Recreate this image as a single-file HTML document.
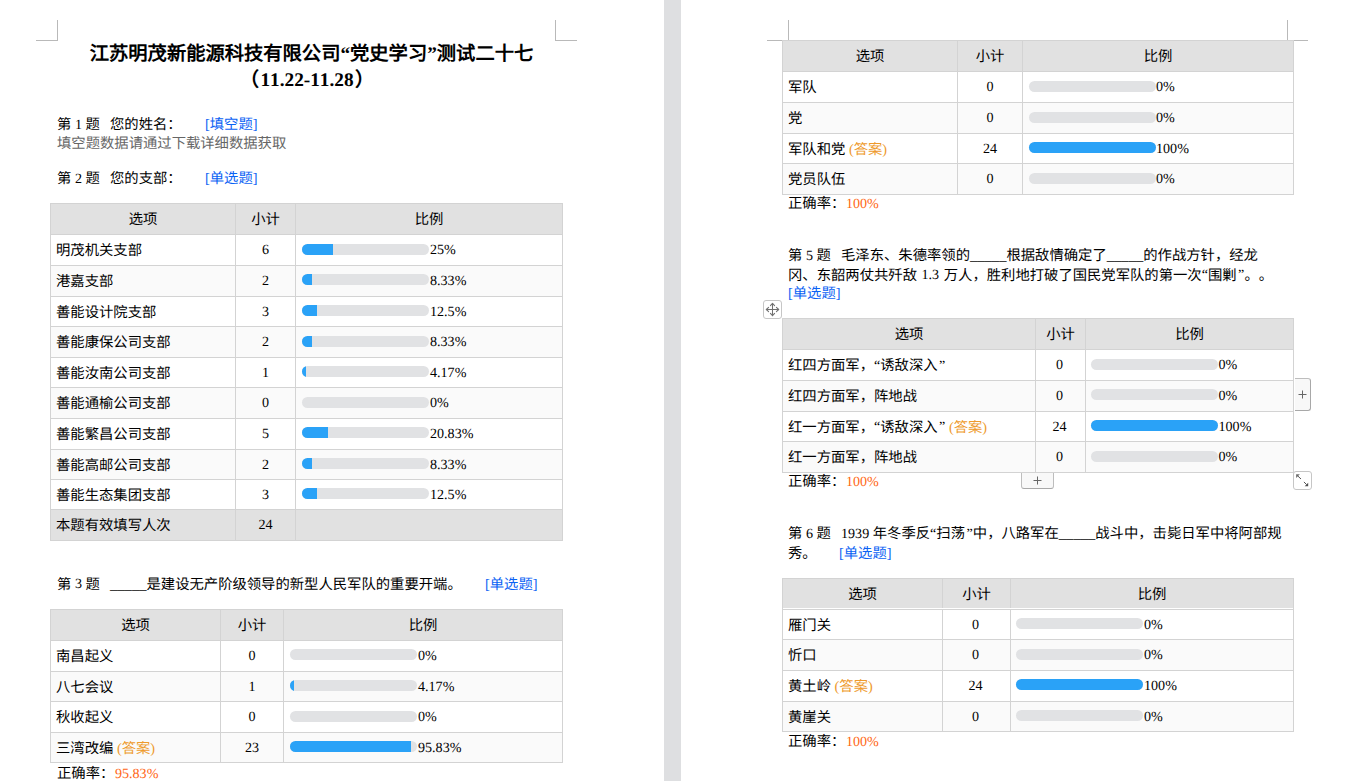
<!DOCTYPE html>
<html lang="zh-CN"><head><meta charset="utf-8"><title>doc</title>
<style>
html,body{margin:0;padding:0;}
body{width:1359px;height:781px;overflow:hidden;background:#fff;position:relative;font-family:"Liberation Serif",serif;}
.r{position:absolute;}
.t{position:absolute;white-space:nowrap;text-rendering:geometricPrecision;text-spacing-trim:space-all;font-kerning:none;}
.u{font-size:14.6px;}
.qc{margin-left:1.5px;}
.l{font-size:14.1px;position:relative;top:-0.5px;}
.p{top:0.3px;margin-left:0.6px;}
</style></head><body>
<div class="r" style="left:664px;top:0px;width:17px;height:781px;background:#dedfe1;"></div>
<div class="r" style="left:57px;top:20px;width:1px;height:21px;background:#b9b9b9;"></div>
<div class="r" style="left:36px;top:40px;width:22px;height:1px;background:#b9b9b9;"></div>
<div class="r" style="left:555px;top:20px;width:1px;height:21px;background:#b9b9b9;"></div>
<div class="r" style="left:555px;top:40px;width:22px;height:1px;background:#b9b9b9;"></div>
<div class="t" style="left:0px;top:42.0px;font-size:19.3px;line-height:26px;color:#000;font-weight:bold;width:623px;text-align:center;">江苏明茂新能源科技有限公司“党史学习”测试二十七</div>
<div class="t" style="left:0px;top:67.6px;font-size:19.3px;line-height:26px;color:#000;font-weight:bold;width:614px;text-align:center;"><span style="margin-right:1.5px">（</span>11.22-11.28<span style="margin-left:1.5px">）</span></div>
<div class="t" style="left:57px;top:115.3px;font-size:14.33px;line-height:20px;color:#000;">第 <span class="l">1</span> 题</div>
<div class="t" style="left:110px;top:115.3px;font-size:14.33px;line-height:20px;color:#000;">您的姓名：</div>
<div class="t" style="left:205px;top:115.3px;font-size:14.33px;line-height:20px;color:#000;"><span style="color:#0a62f4">[填空题]</span></div>
<div class="t" style="left:57px;top:133.8px;font-size:14.33px;line-height:20px;color:#666666;">填空题数据请通过下载详细数据获取</div>
<div class="t" style="left:57px;top:169.3px;font-size:14.33px;line-height:20px;color:#000;">第 <span class="l">2</span> 题</div>
<div class="t" style="left:110px;top:169.3px;font-size:14.33px;line-height:20px;color:#000;">您的支部：</div>
<div class="t" style="left:205px;top:169.3px;font-size:14.33px;line-height:20px;color:#000;"><span style="color:#0a62f4">[单选题]</span></div>
<div class="r" style="left:50px;top:203px;width:513px;height:338px;background:#d3d3d3;"></div>
<div class="r" style="left:51px;top:204px;width:184px;height:30px;background:#e1e1e1;"></div>
<div class="r" style="left:236px;top:204px;width:59px;height:30px;background:#e1e1e1;"></div>
<div class="r" style="left:296px;top:204px;width:266px;height:30px;background:#e1e1e1;"></div>
<div class="t" style="left:51px;top:210.3px;font-size:14.33px;line-height:20px;color:#000;width:184px;text-align:center;">选项</div>
<div class="t" style="left:236px;top:210.3px;font-size:14.33px;line-height:20px;color:#000;width:59px;text-align:center;">小计</div>
<div class="t" style="left:296px;top:210.3px;font-size:14.33px;line-height:20px;color:#000;width:266px;text-align:center;">比例</div>
<div class="r" style="left:51px;top:235px;width:184px;height:30px;background:#fff;"></div>
<div class="r" style="left:236px;top:235px;width:59px;height:30px;background:#fff;"></div>
<div class="r" style="left:296px;top:235px;width:266px;height:30px;background:#fff;"></div>
<div class="t" style="left:56px;top:241.3px;font-size:14.33px;line-height:20px;color:#000;">明茂机关支部</div>
<div class="t" style="left:236px;top:240.2px;font-size:14.1px;line-height:20px;color:#000;width:59px;text-align:center;">6</div>
<div class="r" style="left:302px;top:244px;width:127px;height:11px;background:#e1e2e4;border-radius:5.5px;overflow:hidden;"></div>
<div class="r" style="left:302px;top:244px;width:127px;height:11px;border-radius:5.5px;overflow:hidden;"><div style="width:31.25px;height:11px;background:#2aa2f7"></div></div>
<div class="t" style="left:430px;top:240.2px;font-size:14.1px;line-height:20px;color:#000;">25%</div>
<div class="r" style="left:51px;top:266px;width:184px;height:30px;background:#fafafa;"></div>
<div class="r" style="left:236px;top:266px;width:59px;height:30px;background:#fafafa;"></div>
<div class="r" style="left:296px;top:266px;width:266px;height:30px;background:#fafafa;"></div>
<div class="t" style="left:56px;top:272.3px;font-size:14.33px;line-height:20px;color:#000;">港嘉支部</div>
<div class="t" style="left:236px;top:271.2px;font-size:14.1px;line-height:20px;color:#000;width:59px;text-align:center;">2</div>
<div class="r" style="left:302px;top:274px;width:127px;height:11px;background:#e1e2e4;border-radius:5.5px;overflow:hidden;"></div>
<div class="r" style="left:302px;top:274px;width:127px;height:11px;border-radius:5.5px;overflow:hidden;"><div style="width:10.08px;height:11px;background:#2aa2f7"></div></div>
<div class="t" style="left:430px;top:271.2px;font-size:14.1px;line-height:20px;color:#000;">8.33%</div>
<div class="r" style="left:51px;top:297px;width:184px;height:29px;background:#fff;"></div>
<div class="r" style="left:236px;top:297px;width:59px;height:29px;background:#fff;"></div>
<div class="r" style="left:296px;top:297px;width:266px;height:29px;background:#fff;"></div>
<div class="t" style="left:56px;top:302.8px;font-size:14.33px;line-height:20px;color:#000;">善能设计院支部</div>
<div class="t" style="left:236px;top:301.7px;font-size:14.1px;line-height:20px;color:#000;width:59px;text-align:center;">3</div>
<div class="r" style="left:302px;top:305px;width:127px;height:11px;background:#e1e2e4;border-radius:5.5px;overflow:hidden;"></div>
<div class="r" style="left:302px;top:305px;width:127px;height:11px;border-radius:5.5px;overflow:hidden;"><div style="width:15.38px;height:11px;background:#2aa2f7"></div></div>
<div class="t" style="left:430px;top:301.7px;font-size:14.1px;line-height:20px;color:#000;">12.5%</div>
<div class="r" style="left:51px;top:327px;width:184px;height:30px;background:#fafafa;"></div>
<div class="r" style="left:236px;top:327px;width:59px;height:30px;background:#fafafa;"></div>
<div class="r" style="left:296px;top:327px;width:266px;height:30px;background:#fafafa;"></div>
<div class="t" style="left:56px;top:333.3px;font-size:14.33px;line-height:20px;color:#000;">善能康保公司支部</div>
<div class="t" style="left:236px;top:332.2px;font-size:14.1px;line-height:20px;color:#000;width:59px;text-align:center;">2</div>
<div class="r" style="left:302px;top:336px;width:127px;height:11px;background:#e1e2e4;border-radius:5.5px;overflow:hidden;"></div>
<div class="r" style="left:302px;top:336px;width:127px;height:11px;border-radius:5.5px;overflow:hidden;"><div style="width:10.08px;height:11px;background:#2aa2f7"></div></div>
<div class="t" style="left:430px;top:332.2px;font-size:14.1px;line-height:20px;color:#000;">8.33%</div>
<div class="r" style="left:51px;top:358px;width:184px;height:29px;background:#fff;"></div>
<div class="r" style="left:236px;top:358px;width:59px;height:29px;background:#fff;"></div>
<div class="r" style="left:296px;top:358px;width:266px;height:29px;background:#fff;"></div>
<div class="t" style="left:56px;top:363.8px;font-size:14.33px;line-height:20px;color:#000;">善能汝南公司支部</div>
<div class="t" style="left:236px;top:362.7px;font-size:14.1px;line-height:20px;color:#000;width:59px;text-align:center;">1</div>
<div class="r" style="left:302px;top:366px;width:127px;height:11px;background:#e1e2e4;border-radius:5.5px;overflow:hidden;"></div>
<div class="r" style="left:302px;top:366px;width:127px;height:11px;border-radius:5.5px;overflow:hidden;"><div style="width:3.80px;height:11px;background:#2aa2f7"></div></div>
<div class="t" style="left:430px;top:362.7px;font-size:14.1px;line-height:20px;color:#000;">4.17%</div>
<div class="r" style="left:51px;top:388px;width:184px;height:30px;background:#fafafa;"></div>
<div class="r" style="left:236px;top:388px;width:59px;height:30px;background:#fafafa;"></div>
<div class="r" style="left:296px;top:388px;width:266px;height:30px;background:#fafafa;"></div>
<div class="t" style="left:56px;top:394.3px;font-size:14.33px;line-height:20px;color:#000;">善能通榆公司支部</div>
<div class="t" style="left:236px;top:393.2px;font-size:14.1px;line-height:20px;color:#000;width:59px;text-align:center;">0</div>
<div class="r" style="left:302px;top:397px;width:127px;height:11px;background:#e1e2e4;border-radius:5.5px;overflow:hidden;"></div>
<div class="t" style="left:430px;top:393.2px;font-size:14.1px;line-height:20px;color:#000;">0%</div>
<div class="r" style="left:51px;top:419px;width:184px;height:30px;background:#fff;"></div>
<div class="r" style="left:236px;top:419px;width:59px;height:30px;background:#fff;"></div>
<div class="r" style="left:296px;top:419px;width:266px;height:30px;background:#fff;"></div>
<div class="t" style="left:56px;top:425.3px;font-size:14.33px;line-height:20px;color:#000;">善能繁昌公司支部</div>
<div class="t" style="left:236px;top:424.2px;font-size:14.1px;line-height:20px;color:#000;width:59px;text-align:center;">5</div>
<div class="r" style="left:302px;top:427px;width:127px;height:11px;background:#e1e2e4;border-radius:5.5px;overflow:hidden;"></div>
<div class="r" style="left:302px;top:427px;width:127px;height:11px;border-radius:5.5px;overflow:hidden;"><div style="width:25.95px;height:11px;background:#2aa2f7"></div></div>
<div class="t" style="left:430px;top:424.2px;font-size:14.1px;line-height:20px;color:#000;">20.83%</div>
<div class="r" style="left:51px;top:450px;width:184px;height:29px;background:#fafafa;"></div>
<div class="r" style="left:236px;top:450px;width:59px;height:29px;background:#fafafa;"></div>
<div class="r" style="left:296px;top:450px;width:266px;height:29px;background:#fafafa;"></div>
<div class="t" style="left:56px;top:455.8px;font-size:14.33px;line-height:20px;color:#000;">善能高邮公司支部</div>
<div class="t" style="left:236px;top:454.7px;font-size:14.1px;line-height:20px;color:#000;width:59px;text-align:center;">2</div>
<div class="r" style="left:302px;top:458px;width:127px;height:11px;background:#e1e2e4;border-radius:5.5px;overflow:hidden;"></div>
<div class="r" style="left:302px;top:458px;width:127px;height:11px;border-radius:5.5px;overflow:hidden;"><div style="width:10.08px;height:11px;background:#2aa2f7"></div></div>
<div class="t" style="left:430px;top:454.7px;font-size:14.1px;line-height:20px;color:#000;">8.33%</div>
<div class="r" style="left:51px;top:480px;width:184px;height:29px;background:#fff;"></div>
<div class="r" style="left:236px;top:480px;width:59px;height:29px;background:#fff;"></div>
<div class="r" style="left:296px;top:480px;width:266px;height:29px;background:#fff;"></div>
<div class="t" style="left:56px;top:485.8px;font-size:14.33px;line-height:20px;color:#000;">善能生态集团支部</div>
<div class="t" style="left:236px;top:484.7px;font-size:14.1px;line-height:20px;color:#000;width:59px;text-align:center;">3</div>
<div class="r" style="left:302px;top:488px;width:127px;height:11px;background:#e1e2e4;border-radius:5.5px;overflow:hidden;"></div>
<div class="r" style="left:302px;top:488px;width:127px;height:11px;border-radius:5.5px;overflow:hidden;"><div style="width:15.38px;height:11px;background:#2aa2f7"></div></div>
<div class="t" style="left:430px;top:484.7px;font-size:14.1px;line-height:20px;color:#000;">12.5%</div>
<div class="r" style="left:51px;top:510px;width:184px;height:30px;background:#e1e1e1;"></div>
<div class="r" style="left:236px;top:510px;width:59px;height:30px;background:#e1e1e1;"></div>
<div class="r" style="left:296px;top:510px;width:266px;height:30px;background:#e1e1e1;"></div>
<div class="t" style="left:56px;top:516.3px;font-size:14.33px;line-height:20px;color:#000;">本题有效填写人次</div>
<div class="t" style="left:236px;top:515.2px;font-size:14.1px;line-height:20px;color:#000;width:59px;text-align:center;">24</div>
<div class="t" style="left:57px;top:574.8px;font-size:14.33px;line-height:20px;color:#000;">第 <span class="l">3</span> 题</div>
<div class="t" style="left:110px;top:574.8px;font-size:14.33px;line-height:20px;color:#000;"><span class="u">_____</span>是建设无产阶级领导的新型人民军队的重要开端。</div>
<div class="t" style="left:485px;top:574.8px;font-size:14.33px;line-height:20px;color:#000;"><span style="color:#0a62f4">[单选题]</span></div>
<div class="r" style="left:50px;top:609px;width:513px;height:154px;background:#d3d3d3;"></div>
<div class="r" style="left:51px;top:610px;width:169px;height:30px;background:#e1e1e1;"></div>
<div class="r" style="left:221px;top:610px;width:62px;height:30px;background:#e1e1e1;"></div>
<div class="r" style="left:284px;top:610px;width:278px;height:30px;background:#e1e1e1;"></div>
<div class="t" style="left:51px;top:616.3px;font-size:14.33px;line-height:20px;color:#000;width:169px;text-align:center;">选项</div>
<div class="t" style="left:221px;top:616.3px;font-size:14.33px;line-height:20px;color:#000;width:62px;text-align:center;">小计</div>
<div class="t" style="left:284px;top:616.3px;font-size:14.33px;line-height:20px;color:#000;width:278px;text-align:center;">比例</div>
<div class="r" style="left:51px;top:641px;width:169px;height:30px;background:#fff;"></div>
<div class="r" style="left:221px;top:641px;width:62px;height:30px;background:#fff;"></div>
<div class="r" style="left:284px;top:641px;width:278px;height:30px;background:#fff;"></div>
<div class="t" style="left:56px;top:647.3px;font-size:14.33px;line-height:20px;color:#000;">南昌起义</div>
<div class="t" style="left:221px;top:646.2px;font-size:14.1px;line-height:20px;color:#000;width:62px;text-align:center;">0</div>
<div class="r" style="left:290px;top:649px;width:127px;height:11px;background:#e1e2e4;border-radius:5.5px;overflow:hidden;"></div>
<div class="t" style="left:418px;top:646.2px;font-size:14.1px;line-height:20px;color:#000;">0%</div>
<div class="r" style="left:51px;top:672px;width:169px;height:29px;background:#fafafa;"></div>
<div class="r" style="left:221px;top:672px;width:62px;height:29px;background:#fafafa;"></div>
<div class="r" style="left:284px;top:672px;width:278px;height:29px;background:#fafafa;"></div>
<div class="t" style="left:56px;top:677.8px;font-size:14.33px;line-height:20px;color:#000;">八七会议</div>
<div class="t" style="left:221px;top:676.7px;font-size:14.1px;line-height:20px;color:#000;width:62px;text-align:center;">1</div>
<div class="r" style="left:290px;top:680px;width:127px;height:11px;background:#e1e2e4;border-radius:5.5px;overflow:hidden;"></div>
<div class="r" style="left:290px;top:680px;width:127px;height:11px;border-radius:5.5px;overflow:hidden;"><div style="width:3.80px;height:11px;background:#2aa2f7"></div></div>
<div class="t" style="left:418px;top:676.7px;font-size:14.1px;line-height:20px;color:#000;">4.17%</div>
<div class="r" style="left:51px;top:702px;width:169px;height:30px;background:#fff;"></div>
<div class="r" style="left:221px;top:702px;width:62px;height:30px;background:#fff;"></div>
<div class="r" style="left:284px;top:702px;width:278px;height:30px;background:#fff;"></div>
<div class="t" style="left:56px;top:708.3px;font-size:14.33px;line-height:20px;color:#000;">秋收起义</div>
<div class="t" style="left:221px;top:707.2px;font-size:14.1px;line-height:20px;color:#000;width:62px;text-align:center;">0</div>
<div class="r" style="left:290px;top:711px;width:127px;height:11px;background:#e1e2e4;border-radius:5.5px;overflow:hidden;"></div>
<div class="t" style="left:418px;top:707.2px;font-size:14.1px;line-height:20px;color:#000;">0%</div>
<div class="r" style="left:51px;top:733px;width:169px;height:29px;background:#fafafa;"></div>
<div class="r" style="left:221px;top:733px;width:62px;height:29px;background:#fafafa;"></div>
<div class="r" style="left:284px;top:733px;width:278px;height:29px;background:#fafafa;"></div>
<div class="t" style="left:56px;top:738.8px;font-size:14.33px;line-height:20px;color:#000;">三湾改编 <span style="color:#ee9a2c">(答案)</span></div>
<div class="t" style="left:221px;top:737.7px;font-size:14.1px;line-height:20px;color:#000;width:62px;text-align:center;">23</div>
<div class="r" style="left:290px;top:741px;width:127px;height:11px;background:#e1e2e4;border-radius:5.5px;overflow:hidden;"></div>
<div class="r" style="left:290px;top:741px;width:127px;height:11px;border-radius:5.5px;overflow:hidden;"><div style="width:121.20px;height:11px;background:#2aa2f7"></div></div>
<div class="t" style="left:418px;top:737.7px;font-size:14.1px;line-height:20px;color:#000;">95.83%</div>
<div class="t" style="left:57px;top:763.6px;font-size:14.33px;line-height:20px;color:#000;">正确率：<span class="l p" style="color:#ff6512">95.83%</span></div>
<div class="r" style="left:788px;top:20px;width:1px;height:21px;background:#b9b9b9;"></div>
<div class="r" style="left:767px;top:40px;width:22px;height:1px;background:#b9b9b9;"></div>
<div class="r" style="left:1287px;top:20px;width:1px;height:21px;background:#b9b9b9;"></div>
<div class="r" style="left:1287px;top:40px;width:21px;height:1px;background:#b9b9b9;"></div>
<div class="r" style="left:782px;top:40px;width:512px;height:155px;background:#d3d3d3;"></div>
<div class="r" style="left:783px;top:41px;width:174px;height:30px;background:#e1e1e1;"></div>
<div class="r" style="left:958px;top:41px;width:64px;height:30px;background:#e1e1e1;"></div>
<div class="r" style="left:1023px;top:41px;width:270px;height:30px;background:#e1e1e1;"></div>
<div class="t" style="left:783px;top:47.3px;font-size:14.33px;line-height:20px;color:#000;width:174px;text-align:center;">选项</div>
<div class="t" style="left:958px;top:47.3px;font-size:14.33px;line-height:20px;color:#000;width:64px;text-align:center;">小计</div>
<div class="t" style="left:1023px;top:47.3px;font-size:14.33px;line-height:20px;color:#000;width:270px;text-align:center;">比例</div>
<div class="r" style="left:783px;top:72px;width:174px;height:30px;background:#fff;"></div>
<div class="r" style="left:958px;top:72px;width:64px;height:30px;background:#fff;"></div>
<div class="r" style="left:1023px;top:72px;width:270px;height:30px;background:#fff;"></div>
<div class="t" style="left:788px;top:78.3px;font-size:14.33px;line-height:20px;color:#000;">军队</div>
<div class="t" style="left:958px;top:77.2px;font-size:14.1px;line-height:20px;color:#000;width:64px;text-align:center;">0</div>
<div class="r" style="left:1029px;top:81px;width:127px;height:11px;background:#e1e2e4;border-radius:5.5px;overflow:hidden;"></div>
<div class="t" style="left:1156px;top:77.2px;font-size:14.1px;line-height:20px;color:#000;">0%</div>
<div class="r" style="left:783px;top:103px;width:174px;height:30px;background:#fafafa;"></div>
<div class="r" style="left:958px;top:103px;width:64px;height:30px;background:#fafafa;"></div>
<div class="r" style="left:1023px;top:103px;width:270px;height:30px;background:#fafafa;"></div>
<div class="t" style="left:788px;top:109.3px;font-size:14.33px;line-height:20px;color:#000;">党</div>
<div class="t" style="left:958px;top:108.2px;font-size:14.1px;line-height:20px;color:#000;width:64px;text-align:center;">0</div>
<div class="r" style="left:1029px;top:112px;width:127px;height:11px;background:#e1e2e4;border-radius:5.5px;overflow:hidden;"></div>
<div class="t" style="left:1156px;top:108.2px;font-size:14.1px;line-height:20px;color:#000;">0%</div>
<div class="r" style="left:783px;top:134px;width:174px;height:29px;background:#fff;"></div>
<div class="r" style="left:958px;top:134px;width:64px;height:29px;background:#fff;"></div>
<div class="r" style="left:1023px;top:134px;width:270px;height:29px;background:#fff;"></div>
<div class="t" style="left:788px;top:139.8px;font-size:14.33px;line-height:20px;color:#000;">军队和党 <span style="color:#ee9a2c">(答案)</span></div>
<div class="t" style="left:958px;top:138.7px;font-size:14.1px;line-height:20px;color:#000;width:64px;text-align:center;">24</div>
<div class="r" style="left:1029px;top:142px;width:127px;height:11px;background:#e1e2e4;border-radius:5.5px;overflow:hidden;"></div>
<div class="r" style="left:1029px;top:142px;width:127px;height:11px;background:#2aa2f7;border-radius:5.5px;"></div>
<div class="t" style="left:1156px;top:138.7px;font-size:14.1px;line-height:20px;color:#000;">100%</div>
<div class="r" style="left:783px;top:164px;width:174px;height:30px;background:#fafafa;"></div>
<div class="r" style="left:958px;top:164px;width:64px;height:30px;background:#fafafa;"></div>
<div class="r" style="left:1023px;top:164px;width:270px;height:30px;background:#fafafa;"></div>
<div class="t" style="left:788px;top:170.3px;font-size:14.33px;line-height:20px;color:#000;">党员队伍</div>
<div class="t" style="left:958px;top:169.2px;font-size:14.1px;line-height:20px;color:#000;width:64px;text-align:center;">0</div>
<div class="r" style="left:1029px;top:173px;width:127px;height:11px;background:#e1e2e4;border-radius:5.5px;overflow:hidden;"></div>
<div class="t" style="left:1156px;top:169.2px;font-size:14.1px;line-height:20px;color:#000;">0%</div>
<div class="t" style="left:788px;top:194.1px;font-size:14.33px;line-height:20px;color:#000;">正确率：<span class="l p" style="color:#ff6512">100%</span></div>
<div class="t" style="left:788px;top:246.3px;font-size:14.33px;line-height:20px;color:#000;">第 <span class="l">5</span> 题</div>
<div class="t" style="left:841px;top:246.3px;font-size:14.33px;line-height:20px;color:#000;">毛泽东、朱德率领的<span class="u">_____</span>根据敌情确定了<span class="u">_____</span>的作战方针，经龙</div>
<div class="t" style="left:788px;top:265.8px;font-size:14.33px;line-height:20px;color:#000;word-spacing:1px;">冈、东韶两仗共歼敌 <span class="l">1.3</span> 万人，胜利地打破了国民党军队的第一次<span class="l">“</span>围剿<span class="l qc">”</span>。。</div>
<div class="t" style="left:788px;top:284.1px;font-size:14.33px;line-height:20px;color:#000;"><span style="color:#0a62f4">[单选题]</span></div>
<div class="r" style="left:782px;top:318px;width:512px;height:155px;background:#d3d3d3;"></div>
<div class="r" style="left:783px;top:319px;width:252px;height:30px;background:#e1e1e1;"></div>
<div class="r" style="left:1036px;top:319px;width:49px;height:30px;background:#e1e1e1;"></div>
<div class="r" style="left:1086px;top:319px;width:207px;height:30px;background:#e1e1e1;"></div>
<div class="t" style="left:783px;top:325.3px;font-size:14.33px;line-height:20px;color:#000;width:252px;text-align:center;">选项</div>
<div class="t" style="left:1036px;top:325.3px;font-size:14.33px;line-height:20px;color:#000;width:49px;text-align:center;">小计</div>
<div class="t" style="left:1086px;top:325.3px;font-size:14.33px;line-height:20px;color:#000;width:207px;text-align:center;">比例</div>
<div class="r" style="left:783px;top:350px;width:252px;height:30px;background:#fff;"></div>
<div class="r" style="left:1036px;top:350px;width:49px;height:30px;background:#fff;"></div>
<div class="r" style="left:1086px;top:350px;width:207px;height:30px;background:#fff;"></div>
<div class="t" style="left:788px;top:356.3px;font-size:14.33px;line-height:20px;color:#000;">红四方面军，<span class="l">“</span>诱敌深入<span class="l qc">”</span></div>
<div class="t" style="left:1035px;top:355.2px;font-size:14.1px;line-height:20px;color:#000;width:49px;text-align:center;">0</div>
<div class="r" style="left:1091px;top:359px;width:127px;height:11px;background:#e1e2e4;border-radius:5.5px;overflow:hidden;"></div>
<div class="t" style="left:1218.5px;top:355.2px;font-size:14.1px;line-height:20px;color:#000;">0%</div>
<div class="r" style="left:783px;top:381px;width:252px;height:30px;background:#fafafa;"></div>
<div class="r" style="left:1036px;top:381px;width:49px;height:30px;background:#fafafa;"></div>
<div class="r" style="left:1086px;top:381px;width:207px;height:30px;background:#fafafa;"></div>
<div class="t" style="left:788px;top:387.3px;font-size:14.33px;line-height:20px;color:#000;">红四方面军，阵地战</div>
<div class="t" style="left:1035px;top:386.2px;font-size:14.1px;line-height:20px;color:#000;width:49px;text-align:center;">0</div>
<div class="r" style="left:1091px;top:389px;width:127px;height:11px;background:#e1e2e4;border-radius:5.5px;overflow:hidden;"></div>
<div class="t" style="left:1218.5px;top:386.2px;font-size:14.1px;line-height:20px;color:#000;">0%</div>
<div class="r" style="left:783px;top:412px;width:252px;height:29px;background:#fff;"></div>
<div class="r" style="left:1036px;top:412px;width:49px;height:29px;background:#fff;"></div>
<div class="r" style="left:1086px;top:412px;width:207px;height:29px;background:#fff;"></div>
<div class="t" style="left:788px;top:417.8px;font-size:14.33px;line-height:20px;color:#000;">红一方面军，<span class="l">“</span>诱敌深入<span class="l qc">”</span> <span style="color:#ee9a2c">(答案)</span></div>
<div class="t" style="left:1035px;top:416.7px;font-size:14.1px;line-height:20px;color:#000;width:49px;text-align:center;">24</div>
<div class="r" style="left:1091px;top:420px;width:127px;height:11px;background:#e1e2e4;border-radius:5.5px;overflow:hidden;"></div>
<div class="r" style="left:1091px;top:420px;width:127px;height:11px;background:#2aa2f7;border-radius:5.5px;"></div>
<div class="t" style="left:1218.5px;top:416.7px;font-size:14.1px;line-height:20px;color:#000;">100%</div>
<div class="r" style="left:783px;top:442px;width:252px;height:30px;background:#fafafa;"></div>
<div class="r" style="left:1036px;top:442px;width:49px;height:30px;background:#fafafa;"></div>
<div class="r" style="left:1086px;top:442px;width:207px;height:30px;background:#fafafa;"></div>
<div class="t" style="left:788px;top:448.3px;font-size:14.33px;line-height:20px;color:#000;">红一方面军，阵地战</div>
<div class="t" style="left:1035px;top:447.2px;font-size:14.1px;line-height:20px;color:#000;width:49px;text-align:center;">0</div>
<div class="r" style="left:1091px;top:451px;width:127px;height:11px;background:#e1e2e4;border-radius:5.5px;overflow:hidden;"></div>
<div class="t" style="left:1218.5px;top:447.2px;font-size:14.1px;line-height:20px;color:#000;">0%</div>
<div class="t" style="left:788px;top:471.6px;font-size:14.33px;line-height:20px;color:#000;">正确率：<span class="l p" style="color:#ff6512">100%</span></div>
<div class="t" style="left:788px;top:524.3px;font-size:14.33px;line-height:20px;color:#000;">第 <span class="l">6</span> 题</div>
<div class="t" style="left:841px;top:524.3px;font-size:14.33px;line-height:20px;color:#000;"><span class="l">1939</span> 年冬季反<span class="l">“</span>扫荡<span class="l qc">”</span>中，八路军在<span class="u">_____</span>战斗中，击毙日军中将阿部规</div>
<div class="t" style="left:788px;top:543.5px;font-size:14.33px;line-height:20px;color:#000;">秀。</div>
<div class="t" style="left:839px;top:543.5px;font-size:14.33px;line-height:20px;color:#000;"><span style="color:#0a62f4">[单选题]</span></div>
<div class="r" style="left:782px;top:578px;width:512px;height:154px;background:#d3d3d3;"></div>
<div class="r" style="left:783px;top:579px;width:159px;height:30px;background:#e1e1e1;"></div>
<div class="r" style="left:943px;top:579px;width:67px;height:30px;background:#e1e1e1;"></div>
<div class="r" style="left:1011px;top:579px;width:282px;height:30px;background:#e1e1e1;"></div>
<div class="r" style="left:783px;top:608px;width:510px;height:1px;background:#fff;"></div>
<div class="t" style="left:783px;top:585.3px;font-size:14.33px;line-height:20px;color:#000;width:159px;text-align:center;">选项</div>
<div class="t" style="left:943px;top:585.3px;font-size:14.33px;line-height:20px;color:#000;width:67px;text-align:center;">小计</div>
<div class="t" style="left:1011px;top:585.3px;font-size:14.33px;line-height:20px;color:#000;width:282px;text-align:center;">比例</div>
<div class="r" style="left:783px;top:610px;width:159px;height:29px;background:#fff;"></div>
<div class="r" style="left:943px;top:610px;width:67px;height:29px;background:#fff;"></div>
<div class="r" style="left:1011px;top:610px;width:282px;height:29px;background:#fff;"></div>
<div class="t" style="left:788px;top:615.8px;font-size:14.33px;line-height:20px;color:#000;">雁门关</div>
<div class="t" style="left:942px;top:614.7px;font-size:14.1px;line-height:20px;color:#000;width:67px;text-align:center;">0</div>
<div class="r" style="left:1016px;top:618px;width:127px;height:11px;background:#e1e2e4;border-radius:5.5px;overflow:hidden;"></div>
<div class="t" style="left:1144px;top:614.7px;font-size:14.1px;line-height:20px;color:#000;">0%</div>
<div class="r" style="left:783px;top:640px;width:159px;height:30px;background:#fafafa;"></div>
<div class="r" style="left:943px;top:640px;width:67px;height:30px;background:#fafafa;"></div>
<div class="r" style="left:1011px;top:640px;width:282px;height:30px;background:#fafafa;"></div>
<div class="t" style="left:788px;top:646.3px;font-size:14.33px;line-height:20px;color:#000;">忻口</div>
<div class="t" style="left:942px;top:645.2px;font-size:14.1px;line-height:20px;color:#000;width:67px;text-align:center;">0</div>
<div class="r" style="left:1016px;top:649px;width:127px;height:11px;background:#e1e2e4;border-radius:5.5px;overflow:hidden;"></div>
<div class="t" style="left:1144px;top:645.2px;font-size:14.1px;line-height:20px;color:#000;">0%</div>
<div class="r" style="left:783px;top:671px;width:159px;height:30px;background:#fff;"></div>
<div class="r" style="left:943px;top:671px;width:67px;height:30px;background:#fff;"></div>
<div class="r" style="left:1011px;top:671px;width:282px;height:30px;background:#fff;"></div>
<div class="t" style="left:788px;top:677.3px;font-size:14.33px;line-height:20px;color:#000;">黄土岭 <span style="color:#ee9a2c">(答案)</span></div>
<div class="t" style="left:942px;top:676.2px;font-size:14.1px;line-height:20px;color:#000;width:67px;text-align:center;">24</div>
<div class="r" style="left:1016px;top:679px;width:127px;height:11px;background:#e1e2e4;border-radius:5.5px;overflow:hidden;"></div>
<div class="r" style="left:1016px;top:679px;width:127px;height:11px;background:#2aa2f7;border-radius:5.5px;"></div>
<div class="t" style="left:1144px;top:676.2px;font-size:14.1px;line-height:20px;color:#000;">100%</div>
<div class="r" style="left:783px;top:702px;width:159px;height:29px;background:#fafafa;"></div>
<div class="r" style="left:943px;top:702px;width:67px;height:29px;background:#fafafa;"></div>
<div class="r" style="left:1011px;top:702px;width:282px;height:29px;background:#fafafa;"></div>
<div class="t" style="left:788px;top:707.8px;font-size:14.33px;line-height:20px;color:#000;">黄崖关</div>
<div class="t" style="left:942px;top:706.7px;font-size:14.1px;line-height:20px;color:#000;width:67px;text-align:center;">0</div>
<div class="r" style="left:1016px;top:710px;width:127px;height:11px;background:#e1e2e4;border-radius:5.5px;overflow:hidden;"></div>
<div class="t" style="left:1144px;top:706.7px;font-size:14.1px;line-height:20px;color:#000;">0%</div>
<div class="t" style="left:788px;top:732.1px;font-size:14.33px;line-height:20px;color:#000;">正确率：<span class="l p" style="color:#ff6512">100%</span></div>
<div class="r" style="left:763px;top:300px;width:17px;height:17px;border:1px solid #c6c6c6;border-radius:3px;background:#fff;"></div>
<svg class="r" style="left:765px;top:302px" width="15" height="15" viewBox="0 0 15 15"><g stroke="#707070" stroke-width="1.05" fill="none" stroke-linecap="round" stroke-linejoin="round"><path d="M7.5 1.4v12.2M1.4 7.5h12.2"/><path d="M5.4 3.6l2.1-2.3 2.1 2.3M5.4 11.4l2.1 2.3 2.1-2.3M3.6 5.4l-2.3 2.1 2.3 2.1M11.4 5.4l2.3 2.1-2.3 2.1"/></g></svg>
<div class="r" style="left:1295px;top:378px;width:16px;height:33px;border:1px solid #bdbdbd;border-left:none;border-right-color:#a8a8a8;border-bottom-color:#a8a8a8;border-radius:0 3px 3px 0;background:#f8f8f8;box-sizing:border-box;"></div>
<svg class="r" style="left:1298px;top:390px" width="9" height="9" viewBox="0 0 9 9"><path d="M4.5 0.5v8M0.5 4.5h8" stroke="#666" stroke-width="1" fill="none"/></svg>
<div class="r" style="left:1021px;top:473px;width:33px;height:16px;border:1px solid #bdbdbd;border-top:none;border-bottom-color:#a8a8a8;border-radius:0 0 3px 3px;background:#f8f8f8;box-sizing:border-box;"></div>
<svg class="r" style="left:1033px;top:476px" width="9" height="9" viewBox="0 0 9 9"><path d="M4.5 0.5v8M0.5 4.5h8" stroke="#666" stroke-width="1" fill="none"/></svg>
<div class="r" style="left:1293px;top:471px;width:19px;height:19px;border:1px solid #c6c6c6;border-radius:3px;background:#fff;box-sizing:border-box;"></div>
<svg class="r" style="left:1293px;top:471px" width="19" height="19" viewBox="0 0 19 19"><path d="M3.1 3.3h3.8L3.1 7.1z" fill="#707070"/><path d="M15.2 15.2h-3.5l3.5-3.5z" fill="#505050"/><g stroke="#555" stroke-width="1" fill="none"><path d="M4.6 4.8l3.4 3.2"/><path d="M13.6 13.6l-2.7-2.7"/></g></svg>
</body></html>
